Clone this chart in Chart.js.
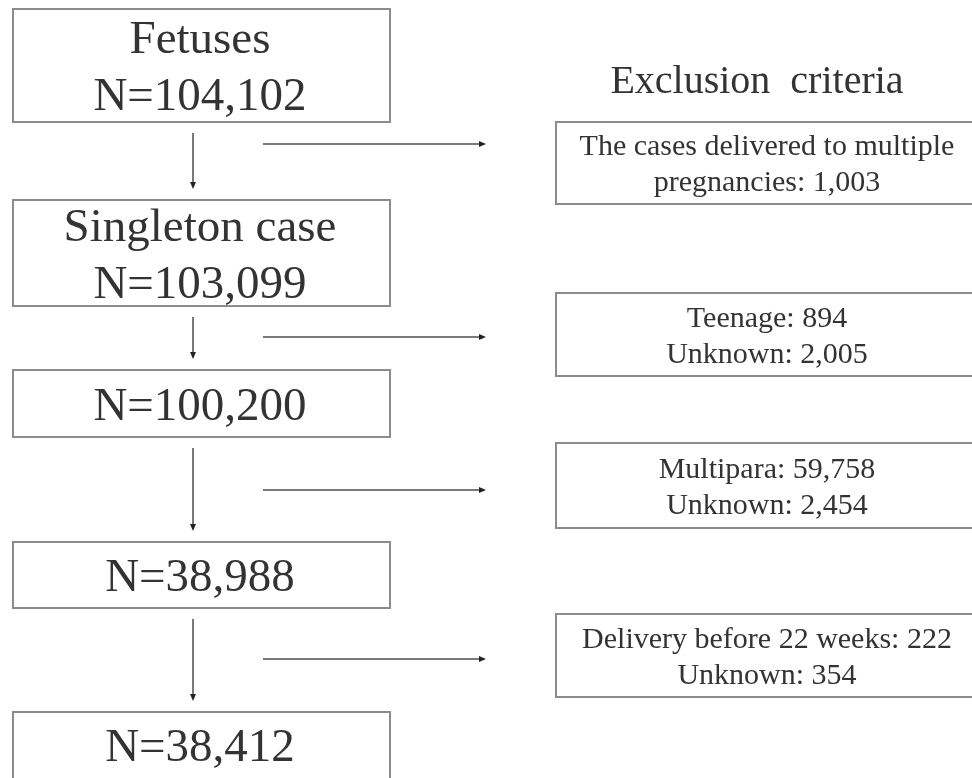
<!DOCTYPE html>
<html>
<head>
<meta charset="utf-8">
<script src="https://cdn.jsdelivr.net/npm/chart.js@4/dist/chart.umd.min.js"></script>
<style>
  html, body { margin: 0; padding: 0; background: #fff; }
  #wrap { width: 972px; height: 778px; }
</style>
</head>
<body>
<div id="wrap"><canvas id="flowChart" width="972" height="778"></canvas></div>
<script>
// Datos del diagrama de flujo
const stageTitles = ['Fetuses', 'Singleton case', '', '', ''];
const stageCounts = [104102, 103099, 100200, 38988, 38412];

const exclusionTitle = 'Exclusion  criteria';
const exclusionReasons = [
    ['The cases delivered to multiple\npregnancies'],
    ['Teenage', 'Unknown'],
    ['Multipara', 'Unknown'],
    ['Delivery before 22 weeks', 'Unknown']
];
const exclusionCounts = [
    [1003],
    [894, 2005],
    [59758, 2454],
    [222, 354]
];

// Geometría (en unidades de la escala, 0..972 x 0..778)
const layout = {
    mainLeft: 13, mainRight: 390, mainTextX: 200,
    mainTop: [9, 200, 370, 542, 712],
    mainBottom: [122, 306, 437, 608, 800],
    downX: 193,
    exLeft: 556, exRight: 1000, exTextX: 767,
    exTop: [122, 293, 443, 614],
    exBottom: [204, 376, 528, 697],
    arrowY: [144, 337, 490, 659],
    arrowFrom: 263, arrowTo: 486,
    titleX: 757, titleY: 93
};

const fmt = n => n.toLocaleString('en-US');
const serif = '"Liberation Serif", "Times New Roman", serif';

function drawArrow(ctx, x1, y1, x2, y2) {
    const ang = Math.atan2(y2 - y1, x2 - x1);
    ctx.strokeStyle = '#7a7a7a';
    ctx.lineWidth = 2;
    ctx.beginPath();
    ctx.moveTo(x1, y1);
    ctx.lineTo(x2 - 4 * Math.cos(ang), y2 - 4 * Math.sin(ang));
    ctx.stroke();
    ctx.fillStyle = '#222';
    ctx.beginPath();
    ctx.moveTo(x2, y2);
    ctx.lineTo(x2 - 7 * Math.cos(ang) + 3 * Math.sin(ang), y2 - 7 * Math.sin(ang) - 3 * Math.cos(ang));
    ctx.lineTo(x2 - 7 * Math.cos(ang) - 3 * Math.sin(ang), y2 - 7 * Math.sin(ang) + 3 * Math.cos(ang));
    ctx.closePath();
    ctx.fill();
}

const flowPlugin = {
    id: 'flowPlugin',
    afterDraw(chart) {
        const ctx = chart.ctx;
        const xs = chart.scales.x, ys = chart.scales.y;
        const px = v => xs.getPixelForValue(v);
        const py = v => ys.getPixelForValue(v);
        ctx.save();

        // Cajas principales
        stageCounts.forEach((count, i) => {
            const top = py(layout.mainTop[i]), bottom = py(layout.mainBottom[i]);
            ctx.strokeStyle = '#8c8c8c';
            ctx.lineWidth = 2;
            ctx.strokeRect(px(layout.mainLeft), top, px(layout.mainRight) - px(layout.mainLeft), bottom - top);

            const lines = stageTitles[i] ? [stageTitles[i], 'N=' + fmt(count)] : ['N=' + fmt(count)];
            const boxBottom = Math.min(bottom, py(778));
            const center = i === 4 ? (top + py(778)) / 2 : (top + bottom) / 2;
            ctx.font = '47px ' + serif;
            ctx.fillStyle = '#333';
            ctx.textAlign = 'center';
            ctx.textBaseline = 'alphabetic';
            const lh = 57;
            lines.forEach((t, k) => {
                const y = center + 16 + (k - (lines.length - 1) / 2) * lh;
                ctx.fillText(t, px(layout.mainTextX), y);
            });
        });

        // Flechas hacia abajo
        for (let i = 0; i < stageCounts.length - 1; i++) {
            drawArrow(ctx, px(layout.downX), py(layout.mainBottom[i] + 11),
                      px(layout.downX), py(layout.mainTop[i + 1] - 11));
        }

        // Título de exclusión
        ctx.font = '40px ' + serif;
        ctx.fillStyle = '#333';
        ctx.textAlign = 'center';
        ctx.fillText(exclusionTitle, px(layout.titleX), py(layout.titleY));

        // Cajas de exclusión y flechas laterales
        exclusionReasons.forEach((reasons, i) => {
            const top = py(layout.exTop[i]), bottom = py(layout.exBottom[i]);
            ctx.strokeStyle = '#8c8c8c';
            ctx.lineWidth = 2;
            ctx.strokeRect(px(layout.exLeft), top, px(layout.exRight) - px(layout.exLeft), bottom - top);

            let lines = [];
            reasons.forEach((r, k) => {
                const parts = (r + ': ' + fmt(exclusionCounts[i][k])).split('\n');
                lines = lines.concat(parts);
            });
            ctx.font = '30px ' + serif;
            ctx.fillStyle = '#333';
            const center = (top + bottom) / 2;
            const lh = 36;
            lines.forEach((t, k) => {
                const y = center + 10 + (k - (lines.length - 1) / 2) * lh;
                ctx.fillText(t, px(layout.exTextX), y);
            });

            drawArrow(ctx, px(layout.arrowFrom), py(layout.arrowY[i]), px(layout.arrowTo), py(layout.arrowY[i]));
        });

        ctx.restore();
    }
};

new Chart(document.getElementById('flowChart').getContext('2d'), {
    type: 'scatter',
    data: { datasets: [{ data: [], pointRadius: 0 }] },
    options: {
        responsive: false,
        animation: false,
        events: [],
        layout: { padding: 0 },
        scales: {
            x: { type: 'linear', min: 0, max: 972, display: false },
            y: { type: 'linear', min: 0, max: 778, reverse: true, display: false }
        },
        plugins: { legend: { display: false }, tooltip: { enabled: false } }
    },
    plugins: [flowPlugin]
});
</script>
</body>
</html>
